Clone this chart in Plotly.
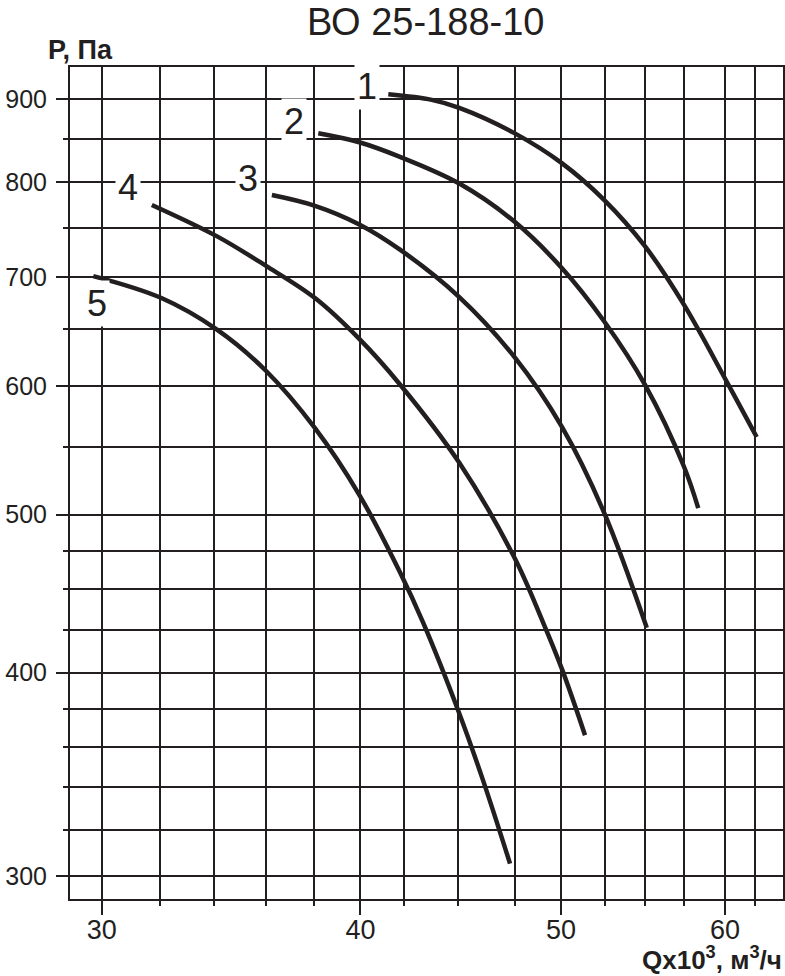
import numpy as np
import plotly.graph_objects as go

# ---- data (Q x10^3 m3/h, P Pa) ----
q1 = [41.26, 43.30, 44.65, 47.47, 50.04, 52.45, 54.91, 57.32, 60.11, 62.15]
p1 = [906.0, 898.9, 888.8, 857.6, 822.0, 780.4, 730.4, 672.9, 603.6, 558.1]

q2 = [38.17, 39.95, 41.80, 44.65, 47.47, 50.04, 52.45, 54.91, 57.32, 58.24]
p2 = [857.4, 846.6, 829.3, 798.6, 756.8, 708.7, 657.3, 600.4, 535.3, 504.7]

q3 = [36.25, 38.03, 39.95, 41.80, 44.65, 47.47, 50.04, 52.45, 55.0]
p3 = [785.8, 773.9, 753.8, 727.4, 680.2, 625.0, 566.3, 501.5, 426.1]

q4 = [31.72, 34.09, 36.00, 38.03, 39.95, 41.80, 44.65, 47.47, 49.0, 50.04, 51.35]
p4 = [774.8, 741.4, 711.1, 679.2, 641.1, 601.1, 538.1, 470.6, 429.6, 402.2, 366.1]

q5 = [29.72, 32.04, 34.09, 36.00, 38.03, 39.95, 41.80, 42.89, 44.65, 45.85, 47.24]
p5 = [700.7, 679.5, 649.8, 613.1, 565.1, 514.3, 460.9, 429.2, 377.5, 343.3, 305.3]

curve_names = ["1", "2", "3", "4", "5"]

x_major = [30, 40, 50, 60]
x_minor = [32, 34, 36, 38, 42, 44.6, 47.5, 52.5, 54.9, 57.3, 62]
y_major = [300, 400, 500, 600, 700, 800, 900]
y_minor = [320, 340, 360, 380, 425, 450, 475, 550, 650, 750, 850]

title_text = "ВО 25-188-10"
y_title = "P, Па"
x_title = "Qx10<sup>3</sup>, м<sup>3</sup>/ч"

C = "#231f20"
FONT = "Liberation Sans, Arial, sans-serif"

fig = go.Figure()
for q, p, n in zip([q1, q2, q3, q4, q5], [p1, p2, p3, p4, p5], curve_names):
    fig.add_trace(go.Scatter(x=q, y=p, mode="lines", name=n,
                             line=dict(color=C, width=4.5, shape="spline", smoothing=1.0),
                             showlegend=False, hoverinfo="skip"))

# curve number labels (data coords)
label_pos = {"1": (40.3, 916.7), "2": (37.15, 871.6), "3": (35.3, 803.8),
             "4": (30.9, 794.2), "5": (29.83, 674.5)}
for n in curve_names:
    lx, ly = label_pos[n]
    fig.add_annotation(x=np.log10(lx), y=np.log10(ly), xref="x", yref="y",
                       text=n, showarrow=False, bgcolor="white", borderpad=2,
                       font=dict(family=FONT, size=36, color=C),
                       xanchor="center", yanchor="middle")

fig.add_annotation(x=0.4979, y=1.0800, xref="paper", yref="paper", text=title_text,
                   showarrow=False, font=dict(family=FONT, size=38, color=C),
                   xanchor="center", yanchor="top", borderpad=0)
fig.add_annotation(x=-0.0335, y=1.021, xref="paper", yref="paper", text="<b>" + y_title + "</b>",
                   showarrow=False, font=dict(family=FONT, size=27, color=C),
                   xanchor="left", yanchor="middle")
fig.add_annotation(x=1.0, y=-0.0920, xref="paper", yref="paper", text="<b>" + x_title + "</b>",
                   showarrow=False, font=dict(family=FONT, size=26, color=C),
                   xanchor="right", yanchor="bottom", borderpad=0)

axis_common = dict(type="log", tickmode="array", ticks="outside", tickwidth=2, tickcolor=C,
                   showgrid=True, gridcolor=C, gridwidth=2, showline=True, linecolor=C,
                   linewidth=2, mirror=True, zeroline=False, automargin=False)

fig.update_xaxes(**axis_common, range=[1.46181, 1.80615], tickvals=x_major,
                 ticktext=[str(v) for v in x_major], ticklen=14, ticklabelstandoff=-8,
                 tickfont=dict(family=FONT, size=27, color=C),
                 minor=dict(tickmode="array", tickvals=x_minor, ticks="outside", ticklen=5,
                            tickwidth=2, tickcolor=C, showgrid=True, gridcolor=C, gridwidth=2))
fig.update_yaxes(**axis_common, range=[2.46300, 2.97390], tickvals=y_major,
                 ticktext=[str(v) for v in y_major], ticklen=12, ticklabelstandoff=4,
                 tickfont=dict(family=FONT, size=25, color=C),
                 minor=dict(tickmode="array", tickvals=y_minor, ticks="outside", ticklen=5,
                            tickwidth=2, tickcolor=C, showgrid=True, gridcolor=C, gridwidth=2))

fig.update_layout(width=785, height=976, margin=dict(l=70, r=2, t=67, b=77),
                  paper_bgcolor="white", plot_bgcolor="white", showlegend=False)

fig.write_html("out.html", config={"displayModeBar": False},
               post_script="document.body.style.margin='0';")
